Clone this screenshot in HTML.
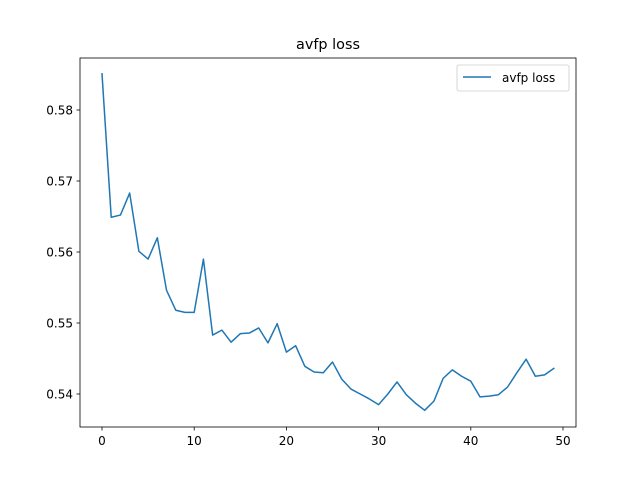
<!DOCTYPE html>
<html><head><meta charset="utf-8">
<style>
body{margin:0;background:#fff;}
svg{display:block;font-family:"DejaVu Sans","Liberation Sans",sans-serif;}
</style></head>
<body>
<svg id="chart" width="640" height="480" xmlns="http://www.w3.org/2000/svg">
<rect width="640" height="480" fill="#fff"/>
<text x="328" y="49" font-size="14.4" text-anchor="middle">avfp loss</text>
<g id="plot"></g>
<rect x="80" y="58" width="496" height="369" fill="none" stroke="#000" stroke-width="0.8"/>
<g>
<rect x="457" y="65" width="112" height="26" rx="2" fill="#fff" stroke="#ccc" stroke-width="0.8"/>
<line x1="463" y1="77" x2="491" y2="77" stroke="#1f77b4" stroke-width="1.5"/>
<text x="502" y="82" font-size="12">avfp loss</text>
</g>
</svg>
<script>
const xTicks=[0,10,20,30,40,50];
const yTicks=[0.54,0.55,0.56,0.57,0.58];
const yTickLabels=["0.54","0.55","0.56","0.57","0.58"];
const lossValues=[0.5851,0.5649,0.5652,0.5683,0.5601,0.5590,0.5620,0.5546,0.5518,0.5515,0.5515,0.5590,0.5483,0.5490,0.5473,0.5485,0.5486,0.5493,0.5472,0.5499,0.5459,0.5468,0.5439,0.5431,0.5430,0.5445,0.5421,0.5407,0.5400,0.5393,0.5385,0.5400,0.5417,0.5399,0.5387,0.5377,0.5390,0.5422,0.5434,0.5425,0.5418,0.5396,0.5397,0.5399,0.5410,0.5430,0.5449,0.5425,0.5427,0.5436];
const ns="http://www.w3.org/2000/svg";
const xs=v=>102+v*(563-102)/50;
const ys=v=>394-(v-0.54)*7100;
const g=document.getElementById('plot');
function mk(t,a){const e=document.createElementNS(ns,t);for(const k in a)e.setAttribute(k,a[k]);g.appendChild(e);return e;}
xTicks.forEach(t=>{
  const l=mk('line',{x1:xs(t),x2:xs(t),y1:427,y2:430.5,stroke:'#000','stroke-width':0.8});
  
  
  const tx=mk('text',{x:xs(t),y:445,'font-size':12,'text-anchor':'middle'});
  tx.textContent=String(t);
  
  
});
yTicks.forEach((t,i)=>{
  const l=mk('line',{x1:76.5,x2:80,y1:ys(t),y2:ys(t),stroke:'#000','stroke-width':0.8});
  
  
  const tx=mk('text',{x:73,y:ys(t)+4.5,'font-size':12,'text-anchor':'end'});
  tx.textContent=yTickLabels[i];
  
  
});
const p=mk('polyline',{points:lossValues.map((v,i)=>xs(i)+','+ys(v)).join(' '),fill:'none',stroke:'#1f77b4','stroke-width':1.5,'stroke-linejoin':'round','stroke-linecap':'square'});


</script>
</body></html>
